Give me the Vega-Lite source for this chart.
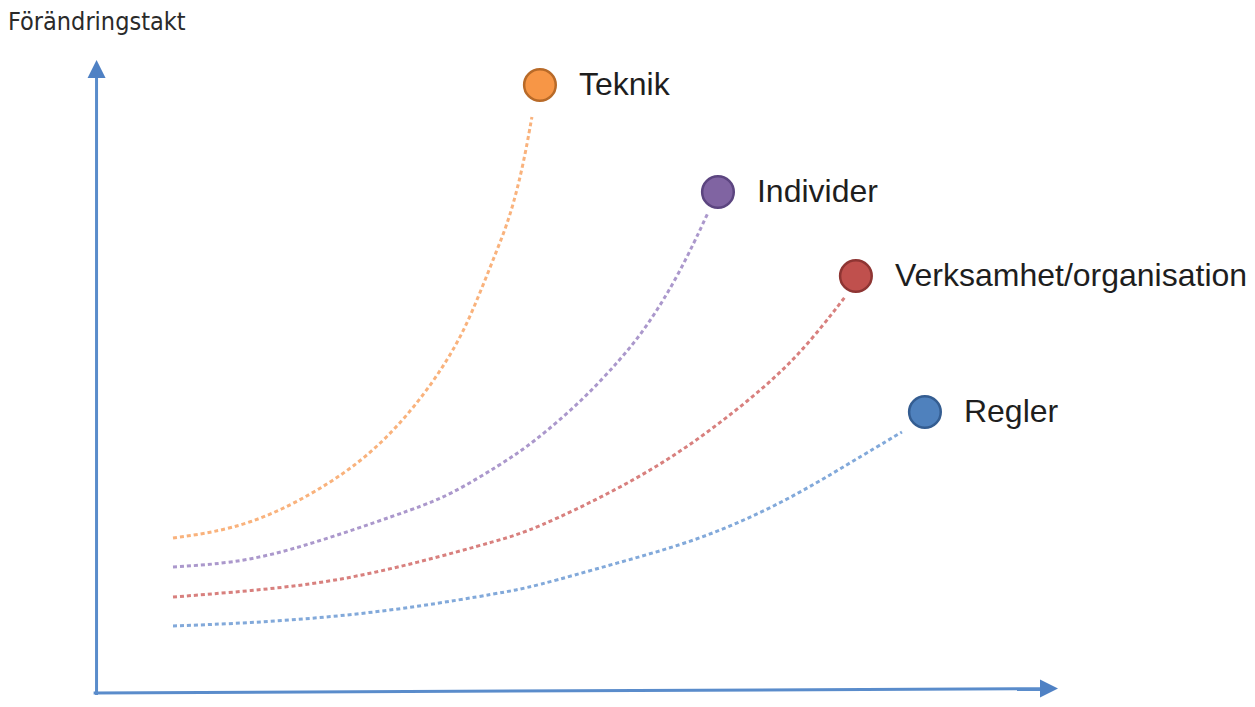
{
  "$schema": "https://vega.github.io/schema/vega-lite/v6.json",
  "width": 1255,
  "height": 707,
  "autosize": {"type": "fit", "contains": "padding"},
  "padding": 0,
  "background": "white",
  "datasets": {
    "curves": [
      {"serie": "Teknik", "t": 7.92, "v": 24.39},
      {"serie": "Teknik", "t": 15.90, "v": 26.14},
      {"serie": "Teknik", "t": 24.49, "v": 33.15},
      {"serie": "Teknik", "t": 29.67, "v": 39.51},
      {"serie": "Teknik", "t": 33.50, "v": 46.35},
      {"serie": "Teknik", "t": 35.89, "v": 51.60},
      {"serie": "Teknik", "t": 37.96, "v": 57.02},
      {"serie": "Teknik", "t": 39.72, "v": 63.38},
      {"serie": "Teknik", "t": 41.48, "v": 70.22},
      {"serie": "Teknik", "t": 42.83, "v": 75.47},
      {"serie": "Teknik", "t": 44.17, "v": 83.43},
      {"serie": "Teknik", "t": 45.10, "v": 91.39},
      {"serie": "Individer", "t": 7.92, "v": 19.78},
      {"serie": "Individer", "t": 15.90, "v": 20.57},
      {"serie": "Individer", "t": 24.49, "v": 24.55},
      {"serie": "Individer", "t": 33.19, "v": 29.17},
      {"serie": "Individer", "t": 36.61, "v": 31.24},
      {"serie": "Individer", "t": 41.79, "v": 36.01},
      {"serie": "Individer", "t": 45.21, "v": 39.51},
      {"serie": "Individer", "t": 50.39, "v": 46.35},
      {"serie": "Individer", "t": 54.22, "v": 52.72},
      {"serie": "Individer", "t": 57.02, "v": 57.97},
      {"serie": "Individer", "t": 60.43, "v": 66.56},
      {"serie": "Individer", "t": 63.33, "v": 76.11},
      {"serie": "Verksamhet/organisation", "t": 7.92, "v": 15.00},
      {"serie": "Verksamhet/organisation", "t": 15.90, "v": 15.96},
      {"serie": "Verksamhet/organisation", "t": 24.49, "v": 17.39},
      {"serie": "Verksamhet/organisation", "t": 33.19, "v": 20.41},
      {"serie": "Verksamhet/organisation", "t": 41.79, "v": 24.07},
      {"serie": "Verksamhet/organisation", "t": 45.21, "v": 25.67},
      {"serie": "Verksamhet/organisation", "t": 53.91, "v": 32.03},
      {"serie": "Verksamhet/organisation", "t": 60.75, "v": 38.24},
      {"serie": "Verksamhet/organisation", "t": 67.69, "v": 46.35},
      {"serie": "Verksamhet/organisation", "t": 72.86, "v": 53.51},
      {"serie": "Verksamhet/organisation", "t": 77.53, "v": 62.74},
      {"serie": "Regler", "t": 7.92, "v": 10.39},
      {"serie": "Regler", "t": 15.90, "v": 10.87},
      {"serie": "Regler", "t": 24.49, "v": 11.82},
      {"serie": "Regler", "t": 33.19, "v": 13.41},
      {"serie": "Regler", "t": 41.79, "v": 15.64},
      {"serie": "Regler", "t": 45.21, "v": 16.60},
      {"serie": "Regler", "t": 53.91, "v": 20.41},
      {"serie": "Regler", "t": 62.51, "v": 24.07},
      {"serie": "Regler", "t": 71.10, "v": 29.96},
      {"serie": "Regler", "t": 78.04, "v": 36.33},
      {"serie": "Regler", "t": 83.43, "v": 41.26}
    ],
    "ends": [
      {"serie": "Teknik", "t": 45.93, "v": 96.48},
      {"serie": "Individer", "t": 64.37, "v": 79.45},
      {"serie": "Verksamhet/organisation", "t": 78.66, "v": 66.09},
      {"serie": "Regler", "t": 85.81, "v": 44.44}
    ],
    "axes": [
      {"axis": "y", "t": 0, "v": -0.6, "t2": 0, "v2": 98.0},
      {"axis": "x", "t": -0.3, "v": -0.27, "t2": 97.9, "v2": 0.42}
    ],
    "arrows": [
      {"axis": "y", "t": 0, "v": 99.03},
      {"axis": "x", "t": 98.66, "v": 0.44}
    ],
    "title": [
      {"text": "Förändringstakt", "t": -9.17, "v": 106.5}
    ]
  },
  "encoding": {
    "x": {"field": "t", "type": "quantitative", "axis": null, "scale": {"domain": [-10, 120], "nice": false, "zero": false}},
    "y": {"field": "v", "type": "quantitative", "axis": null, "scale": {"domain": [-2.5, 110], "nice": false, "zero": false}}
  },
  "layer": [
    {
      "data": {"name": "axes"},
      "mark": {"type": "rule", "color": "#5a8ccb", "strokeWidth": 3},
      "encoding": {
        "x2": {"field": "t2"},
        "y2": {"field": "v2"}
      }
    },
    {
      "data": {"name": "arrows"},
      "mark": {"type": "point", "filled": true, "color": "#4f81c4", "opacity": 1, "size": 324},
      "encoding": {
        "shape": {
          "field": "axis",
          "type": "nominal",
          "legend": null,
          "scale": {"domain": ["y", "x"], "range": ["M-1,1L0,-1L1,1Z", "M-1,-1L1,0L-1,1Z"]}
        }
      }
    },
    {
      "data": {"name": "curves"},
      "mark": {"type": "line", "interpolate": "basis", "strokeWidth": 3, "strokeDash": [4, 3]},
      "encoding": {
        "color": {
          "field": "serie",
          "type": "nominal",
          "legend": null,
          "scale": {
            "domain": ["Teknik", "Individer", "Verksamhet/organisation", "Regler"],
            "range": ["#f9b27c", "#ab98cc", "#d8807e", "#82a9da"]
          }
        }
      }
    },
    {
      "data": {"name": "ends"},
      "mark": {"type": "point", "shape": "circle", "size": 1000, "filled": true, "opacity": 1, "strokeWidth": 2.5},
      "encoding": {
        "fill": {
          "field": "serie",
          "type": "nominal",
          "legend": null,
          "scale": {
            "domain": ["Teknik", "Individer", "Verksamhet/organisation", "Regler"],
            "range": ["#f79646", "#8064a2", "#c0504d", "#4f81bd"]
          }
        },
        "stroke": {
          "field": "serie",
          "type": "nominal",
          "legend": null,
          "scale": {
            "domain": ["Teknik", "Individer", "Verksamhet/organisation", "Regler"],
            "range": ["#b86a28", "#5c4580", "#8e3533", "#345d91"]
          }
        }
      }
    },
    {
      "data": {"name": "ends"},
      "mark": {"type": "text", "align": "left", "baseline": "middle", "dx": 39, "font": "Liberation Sans", "fontSize": 32, "color": "#1e1e1e"},
      "encoding": {
        "text": {"field": "serie"}
      }
    },
    {
      "data": {"name": "title"},
      "mark": {"type": "text", "align": "left", "baseline": "middle", "font": "DejaVu Sans Condensed, Liberation Sans", "fontSize": 25, "color": "#2a2a2a"},
      "encoding": {
        "text": {"field": "text"}
      }
    }
  ],
  "config": {
    "view": {"stroke": null}
  }
}
